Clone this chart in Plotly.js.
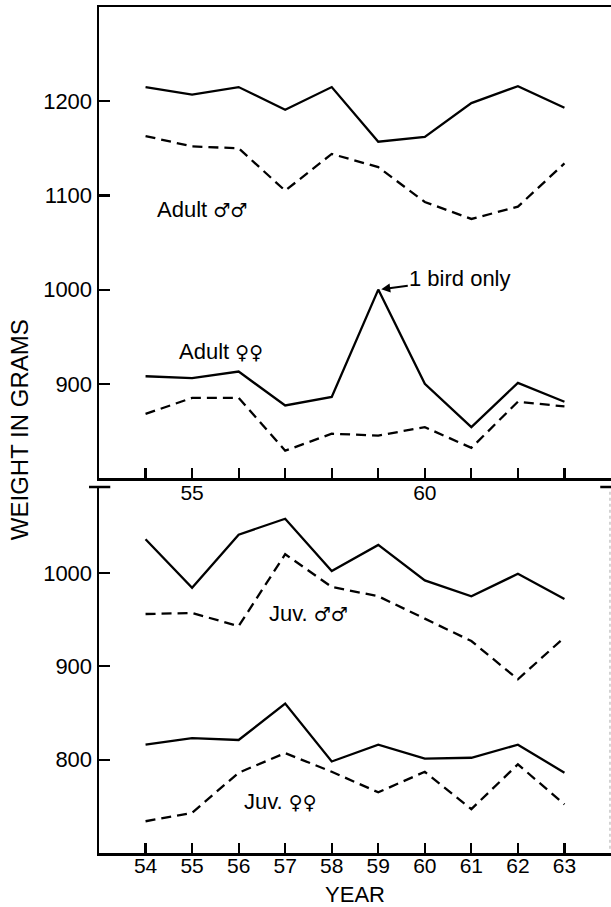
<!DOCTYPE html>
<html><head><meta charset="utf-8">
<script src="https://cdn.plot.ly/plotly-3.0.1.min.js"></script>
<style>html,body{margin:0;padding:0;background:#fff}</style>
</head><body><div id="chart" style="width:611px;height:907px"></div>
<script>
const years = [54, 55, 56, 57, 58, 59, 60, 61, 62, 63];
const adultMaleSolid   = [1215, 1207, 1215, 1191, 1215, 1157, 1162, 1198, 1216, 1193];
const adultMaleDashed  = [1163, 1152, 1150, 1105, 1144, 1130, 1093, 1075, 1088, 1134];
const adultFemaleSolid = [908, 906, 913, 877, 886, 1000, 900, 854, 901, 881];
const adultFemaleDashed= [868, 885, 885, 829, 847, 845, 854, 832, 881, 876];
const juvMaleSolid     = [1036, 984, 1041, 1058, 1002, 1030, 992, 975, 999, 972];
const juvMaleDashed    = [956, 957, 943, 1020, 985, 975, 951, 927, 886, 931];
const juvFemaleSolid   = [816, 823, 821, 860, 798, 816, 801, 802, 816, 786];
const juvFemaleDashed  = [734, 743, 786, 807, 787, 765, 787, 747, 795, 752];
const bottomTickLabels = ['54', '55', '56', '57', '58', '59', '60', '61', '62', '63'];
const topTickLabels    = ['', '55', '', '', '', '', '60', '', '', ''];
const topYTicks    = [900, 1000, 1100, 1200];
const bottomYTicks = [800, 900, 1000];

const FONT = 'Liberation Sans, Arial, sans-serif';
const solid = {color: '#000', width: 2.3};
const dashed = {color: '#000', width: 2.3, dash: '10px,6px'};
const MALE = '<span style="font-family:DejaVu Sans;font-size:19px;font-weight:bold">♂♂</span>';
const FEMALE = '<span style="font-family:DejaVu Sans;font-size:19px;font-weight:bold">♀♀</span>';

function tr(y, line, xa, ya) {
  return {x: years, y: y, mode: 'lines', line: line, xaxis: xa, yaxis: ya, hoverinfo: 'skip'};
}
const data = [
  tr(adultMaleSolid, solid, 'x2', 'y2'),
  tr(adultMaleDashed, dashed, 'x2', 'y2'),
  tr(adultFemaleSolid, solid, 'x2', 'y2'),
  tr(adultFemaleDashed, dashed, 'x2', 'y2'),
  tr(juvMaleSolid, solid, 'x', 'y'),
  tr(juvMaleDashed, dashed, 'x', 'y'),
  tr(juvFemaleSolid, solid, 'x', 'y'),
  tr(juvFemaleDashed, dashed, 'x', 'y')
];

const axisCommon = {
  showline: true, linecolor: '#000', linewidth: 2.5,
  ticks: 'inside', ticklen: 10, tickwidth: 2.2, tickcolor: '#000',
  showgrid: false, zeroline: false, fixedrange: true
};

const layout = {
  width: 611, height: 907,
  margin: {l: 99, r: 0, t: 7, b: 54},
  paper_bgcolor: '#fff', plot_bgcolor: '#fff',
  showlegend: false,
  font: {family: FONT, color: '#000'},
  xaxis: Object.assign({}, axisCommon, {
    anchor: 'y', range: [53, 64], tickvals: years, ticktext: bottomTickLabels,
    tickfont: {size: 21, family: FONT}, ticklabelstandoff: -8,
    title: {text: 'YEAR', font: {size: 22, family: FONT}, standoff: 18}, automargin: false
  }),
  xaxis2: Object.assign({}, axisCommon, {
    anchor: 'y2', range: [53, 64], tickvals: years, ticktext: topTickLabels,
    tickfont: {size: 21, family: FONT}, ticklabelstandoff: -6, mirror: true
  }),
  yaxis: Object.assign({}, axisCommon, {
    domain: [0, 0.43262], range: [700, 1092], tickvals: bottomYTicks,
    ticklen: 11, tickfont: {size: 22, family: FONT}
  }),
  yaxis2: Object.assign({}, axisCommon, {
    domain: [0.44326, 1], range: [800, 1300], tickvals: topYTicks,
    ticklen: 11, tickfont: {size: 22, family: FONT}
  }),
  shapes: [
    {type: 'line', xref: 'paper', yref: 'paper', x0: -0.0195, x1: 0.022, y0: 0.43262, y1: 0.43262,
     line: {color: '#000', width: 2.5}},
    {type: 'line', xref: 'paper', yref: 'paper', x0: 0.979, x1: 1.0, y0: 0.43262, y1: 0.43262,
     line: {color: '#000', width: 2.5}},
    {type: 'line', xref: 'paper', yref: 'paper', x0: 0.998, x1: 0.998, y0: 0.005, y1: 0.43,
     line: {color: '#aaa', width: 1, dash: 'dot'}}
  ],
  annotations: [
    {text: 'WEIGHT IN GRAMS', xref: 'paper', yref: 'paper', x: -0.156, y: 0.5,
     textangle: -90, showarrow: false, font: {size: 24, family: FONT}, xanchor: 'center', yanchor: 'middle'},
    {text: 'Adult ' + MALE, xref: 'x2', yref: 'y2', x: 55.21, y: 1085, showarrow: false,
     font: {size: 22, family: FONT}},
    {text: 'Adult ' + FEMALE, xref: 'x2', yref: 'y2', x: 55.63, y: 934, showarrow: false,
     font: {size: 22, family: FONT}},
    {text: '1 bird only', xref: 'x2', yref: 'y2', x: 59, y: 1000, showarrow: true,
     ax: 82, ay: -11, arrowhead: 2, arrowsize: 0.9, arrowwidth: 2, arrowcolor: '#000', standoff: 3,
     font: {size: 22, family: FONT}},
    {text: 'Juv. ' + MALE, xref: 'x', yref: 'y', x: 57.50, y: 956, showarrow: false,
     font: {size: 22, family: FONT}},
    {text: 'Juv. ' + FEMALE, xref: 'x', yref: 'y', x: 56.89, y: 755, showarrow: false,
     font: {size: 22, family: FONT}}
  ]
};

Plotly.newPlot('chart', data, layout, {staticPlot: true, displayModeBar: false});
</script>
</body></html>
